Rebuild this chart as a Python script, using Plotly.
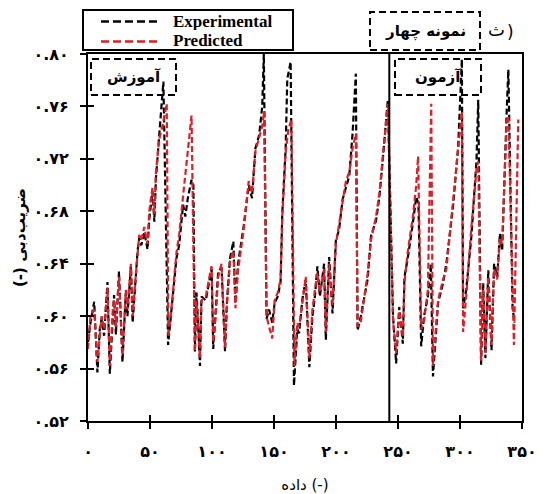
import plotly.graph_objects as go

# ---- data ----
exp_x = [0, 2, 5, 7.6, 9.5, 11, 13, 15.7, 17.6, 20,
         21, 22.5, 25, 27.8, 30.5, 31.8, 34.6, 36, 38.6, 40,
         41.3, 43, 45.4, 48, 49.4, 52, 53.5, 54.8, 56.2, 57.5,
         59, 60.8, 64.6, 67.3, 71.3, 73.5, 76.7, 78.5, 80.5, 83.5,
         85, 86.2, 87.5, 88.5, 90.3, 91.5, 95, 98.3, 99.7, 101,
         103, 105, 107.7, 110.5, 112, 114.5, 117.2, 118.9, 121, 125.6,
         129.6, 132.3, 135, 138, 140.5, 141.8, 144, 146, 148.6, 150.5,
         153, 155.3, 156.7, 159.4, 160.7, 163.4, 166.1, 168.8, 170.3, 172.9,
         175.6, 178.5, 181, 183, 185, 187, 190.4, 191.8, 194.5, 197.2,
         199.9, 202.5, 205.3, 208, 210.7, 213.4, 216, 217.4, 220, 225.5,
         228.2, 232.3, 235, 237.7, 241.8, 246, 248.5, 251, 253.9, 255.2,
         258, 262, 264.7, 266.5, 268.7, 271, 274.1, 276.5, 278.2, 282.3,
         286.3, 289, 294.4, 298.5, 301.5, 302.5, 305, 309.2, 313.3, 314.7,
         317, 318.7, 320.5, 322.8, 325.4, 327.5, 330, 332.2, 334, 337.6,
         339, 342.4, 344]
exp_y = [0.580, 0.595, 0.611, 0.557, 0.590, 0.598, 0.585, 0.626, 0.556, 0.600,
         0.616, 0.586, 0.634, 0.565, 0.618, 0.600, 0.638, 0.595, 0.636, 0.650,
         0.660, 0.654, 0.664, 0.651, 0.674, 0.695, 0.672, 0.705, 0.723, 0.738,
         0.760, 0.779, 0.578, 0.603, 0.644, 0.654, 0.685, 0.676, 0.690, 0.704,
         0.700, 0.573, 0.618, 0.600, 0.562, 0.615, 0.612, 0.629, 0.636, 0.575,
         0.605, 0.634, 0.637, 0.573, 0.610, 0.644, 0.657, 0.610, 0.640, 0.669,
         0.700, 0.690, 0.728, 0.738, 0.760, 0.800, 0.598, 0.605, 0.595, 0.610,
         0.615, 0.626, 0.679, 0.728, 0.781, 0.794, 0.547, 0.590, 0.587, 0.613,
         0.628, 0.561, 0.600, 0.615, 0.638, 0.615, 0.640, 0.582, 0.645, 0.602,
         0.658, 0.666, 0.689, 0.699, 0.707, 0.740, 0.785, 0.589, 0.600, 0.628,
         0.661, 0.673, 0.691, 0.719, 0.765, 0.600, 0.564, 0.607, 0.579, 0.630,
         0.645, 0.671, 0.691, 0.686, 0.577, 0.600, 0.615, 0.640, 0.554, 0.610,
         0.625, 0.640, 0.684, 0.729, 0.796, 0.606, 0.620, 0.661, 0.719, 0.765,
         0.563, 0.625, 0.568, 0.635, 0.574, 0.640, 0.630, 0.663, 0.650, 0.755,
         0.788, 0.606, 0.595]

pred_x = [0, 2, 5, 7.6, 9.5, 11, 13, 15.7, 17.6, 20,
          21, 22.5, 25, 27.8, 30.5, 31.8, 34.6, 36, 38.6, 40,
          41.3, 43, 45.4, 48, 49.4, 52, 53.5, 54.8, 56.2, 57.5,
          60, 63.5, 64.8, 67.3, 71.3, 73.5, 76.7, 80, 83.5, 86.2,
          87.5, 88.5, 90.3, 91.5, 95, 98.3, 99.7, 101, 103, 105,
          107.7, 110.5, 112, 114.5, 117.2, 118.9, 121, 125.6, 129.6, 132.3,
          135, 138, 140.5, 142, 144, 146, 148.6, 150.5, 153, 155.3,
          156.7, 159.4, 161.5, 164, 166.5, 168.8, 170.3, 172.9, 175.6, 178.5,
          181, 183, 185, 187, 190.4, 191.8, 194.5, 197.2, 199.9, 202.5,
          205.3, 208, 210.7, 213.4, 216, 217.4, 220, 225.5, 228.2, 232.3,
          235, 237.7, 241.8, 246, 248.5, 251, 253.9, 255.2, 258, 262,
          264.7, 266.2, 268.7, 271, 274.1, 276.8, 278.2, 282.3, 286.3, 289,
          294.4, 298.5, 301.5, 302.5, 305, 309.2, 313.3, 314.7, 317, 318.7,
          320.5, 322.8, 325.4, 327.5, 330, 332.2, 334, 337.6, 339, 343.5,
          347]
pred_y = [0.575, 0.600, 0.605, 0.565, 0.585, 0.600, 0.590, 0.622, 0.562, 0.605,
          0.612, 0.592, 0.630, 0.570, 0.620, 0.605, 0.640, 0.600, 0.632, 0.652,
          0.662, 0.658, 0.668, 0.655, 0.680, 0.698, 0.678, 0.710, 0.725, 0.735,
          0.745, 0.762, 0.584, 0.606, 0.648, 0.662, 0.692, 0.722, 0.753, 0.573,
          0.612, 0.598, 0.568, 0.612, 0.615, 0.632, 0.638, 0.580, 0.600, 0.630,
          0.640, 0.576, 0.608, 0.642, 0.650, 0.606, 0.635, 0.666, 0.703, 0.694,
          0.726, 0.736, 0.745, 0.756, 0.600, 0.592, 0.583, 0.612, 0.618, 0.628,
          0.676, 0.725, 0.742, 0.750, 0.562, 0.595, 0.592, 0.610, 0.630, 0.568,
          0.605, 0.620, 0.633, 0.618, 0.636, 0.588, 0.640, 0.608, 0.655, 0.670,
          0.686, 0.703, 0.710, 0.728, 0.739, 0.592, 0.596, 0.632, 0.658, 0.676,
          0.694, 0.722, 0.762, 0.596, 0.572, 0.604, 0.584, 0.626, 0.650, 0.676,
          0.700, 0.722, 0.590, 0.596, 0.620, 0.762, 0.562, 0.612, 0.628, 0.636,
          0.688, 0.732, 0.756, 0.588, 0.615, 0.668, 0.712, 0.718, 0.566, 0.620,
          0.572, 0.630, 0.578, 0.636, 0.628, 0.660, 0.655, 0.748, 0.753, 0.578,
          0.750]

x_tickvals = [0, 50, 100, 150, 200, 250, 300, 350]
x_ticktext = ["۰", "۵۰", "۱۰۰", "۱۵۰", "۲۰۰", "۲۵۰", "۳۰۰", "۳۵۰"]
y_tickvals = [0.52, 0.56, 0.60, 0.64, 0.68, 0.72, 0.76, 0.80]
y_ticktext = ["۰.۵۲", "۰.۵۶", "۰.۶۰", "۰.۶۴", "۰.۶۸", "۰.۷۲", "۰.۷۶", "۰.۸۰"]
split_x = 243
series_names = ["Experimental", "Predicted"]

LRE, PDF = "\u202A", "\u202C"
x_title = "داده (-)"
y_title = LRE + "(-) ضریب‌دبی" + PDF

RED = "#e01e26"
FA = "DejaVu Sans"
DATA_DASH = "6px,3px"

fig = go.Figure()
fig.add_trace(go.Scatter(x=exp_x, y=exp_y, mode="lines", name=series_names[0],
                         showlegend=False,
                         line=dict(color="black", width=2.2, dash=DATA_DASH)))
fig.add_trace(go.Scatter(x=pred_x, y=pred_y, mode="lines", name=series_names[1],
                         showlegend=False,
                         line=dict(color=RED, width=2.2, dash=DATA_DASH)))
# helper trace for overlay axes (inside ticks)
fig.add_trace(go.Scatter(x=[None], y=[None], xaxis="x2", yaxis="y2",
                         showlegend=False, hoverinfo="skip"))

axis_font = dict(family=FA, size=16, color="black", weight="bold")
fig.update_layout(
    width=543, height=494,
    margin=dict(l=88, r=21, t=54, b=73, autoexpand=False),
    paper_bgcolor="white", plot_bgcolor="white",
    showlegend=False,
    xaxis=dict(range=[0, 350], tickvals=x_tickvals, ticktext=x_ticktext,
               ticks="outside", ticklen=6, tickwidth=2, tickcolor="black",
               showline=True, linecolor="black", linewidth=2, mirror=True,
               showgrid=False, zeroline=False, tickfont=axis_font,
               ticklabelstandoff=9, automargin=False,
               title=dict(text=x_title, font=dict(family=FA, size=15, color="black"),
                          standoff=26)),
    yaxis=dict(range=[0.52, 0.80], tickvals=y_tickvals, ticktext=y_ticktext,
               ticks="outside", ticklen=6, tickwidth=2, tickcolor="black",
               showline=True, linecolor="black", linewidth=2, mirror=True,
               showgrid=False, zeroline=False, tickfont=axis_font,
               ticklabelstandoff=8, automargin=False,
               title=dict(text=y_title, font=dict(family=FA, size=15, color="black", weight="bold"),
                          standoff=4)),
    xaxis2=dict(range=[0, 350], overlaying="x", anchor="y2", side="bottom",
                tickvals=x_tickvals, showticklabels=False, ticks="inside",
                ticklen=6, tickwidth=2, tickcolor="black", showgrid=False,
                zeroline=False, showline=False, automargin=False),
    yaxis2=dict(range=[0.52, 0.80], overlaying="y", anchor="x2", side="left",
                tickvals=y_tickvals, showticklabels=False, ticks="inside",
                ticklen=6, tickwidth=2, tickcolor="black", showgrid=False,
                zeroline=False, showline=False, automargin=False),
)

# vertical split line between training and test
fig.add_shape(type="line", xref="x", yref="paper", x0=split_x, x1=split_x, y0=0, y1=1,
              line=dict(color="black", width=2))

def px2paper_x(px):
    return (px - 88) / 434.0

def px2paper_y(py):
    return (421 - py) / 367.0

BOX_DASH = "7px,4px"

# dashed boxes inside plot
for (x0, x1, label) in [(91, 176, "آموزش"), (395, 481, "آزمون")]:
    fig.add_shape(type="rect", xref="paper", yref="paper",
                  x0=px2paper_x(x0), x1=px2paper_x(x1),
                  y0=px2paper_y(95), y1=px2paper_y(59),
                  line=dict(color="black", width=2, dash=BOX_DASH))
    fig.add_annotation(xref="paper", yref="paper", xanchor="center", yanchor="middle",
                       x=px2paper_x((x0 + x1) / 2), y=px2paper_y(77),
                       text=label, showarrow=False,
                       font=dict(family=FA, size=15, color="black", weight="bold"))

# top-right dashed box
fig.add_shape(type="rect", xref="paper", yref="paper",
              x0=px2paper_x(370), x1=px2paper_x(480),
              y0=px2paper_y(50), y1=px2paper_y(12),
              line=dict(color="black", width=2, dash=BOX_DASH))
fig.add_annotation(xref="paper", yref="paper", xanchor="center", yanchor="middle",
                   x=px2paper_x(425), y=px2paper_y(31),
                   text="نمونه چهار", showarrow=False,
                   font=dict(family=FA, size=15, color="black", weight="bold"))
# panel tag "ث)" drawn as two glyph pieces to keep the visual order
fig.add_annotation(xref="paper", yref="paper", xanchor="center", yanchor="middle",
                   x=px2paper_x(496), y=px2paper_y(30),
                   text="ث", showarrow=False,
                   font=dict(family=FA, size=18, color="black"))
fig.add_annotation(xref="paper", yref="paper", xanchor="center", yanchor="middle",
                   x=px2paper_x(510), y=px2paper_y(32),
                   text=")", showarrow=False,
                   font=dict(family=FA, size=17, color="black"))

# legend (drawn manually to match the long dashed samples)
fig.add_shape(type="rect", xref="paper", yref="paper",
              x0=px2paper_x(83), x1=px2paper_x(293),
              y0=px2paper_y(50), y1=px2paper_y(10),
              line=dict(color="black", width=2), fillcolor="white", layer="above")
for (py, col, name) in [(20.5, "black", series_names[0]), (40.5, RED, series_names[1])]:
    fig.add_shape(type="line", xref="paper", yref="paper",
                  x0=px2paper_x(101), x1=px2paper_x(159),
                  y0=px2paper_y(py + 1), y1=px2paper_y(py + 1),
                  line=dict(color=col, width=2.5, dash="8px,4px"))
    fig.add_annotation(xref="paper", yref="paper", xanchor="left", yanchor="middle",
                       x=px2paper_x(171), y=px2paper_y(py), height=18,
                       text=name, showarrow=False,
                       font=dict(family="Liberation Serif", size=17, color="black", weight="bold"))

fig.write_html("out.html")
